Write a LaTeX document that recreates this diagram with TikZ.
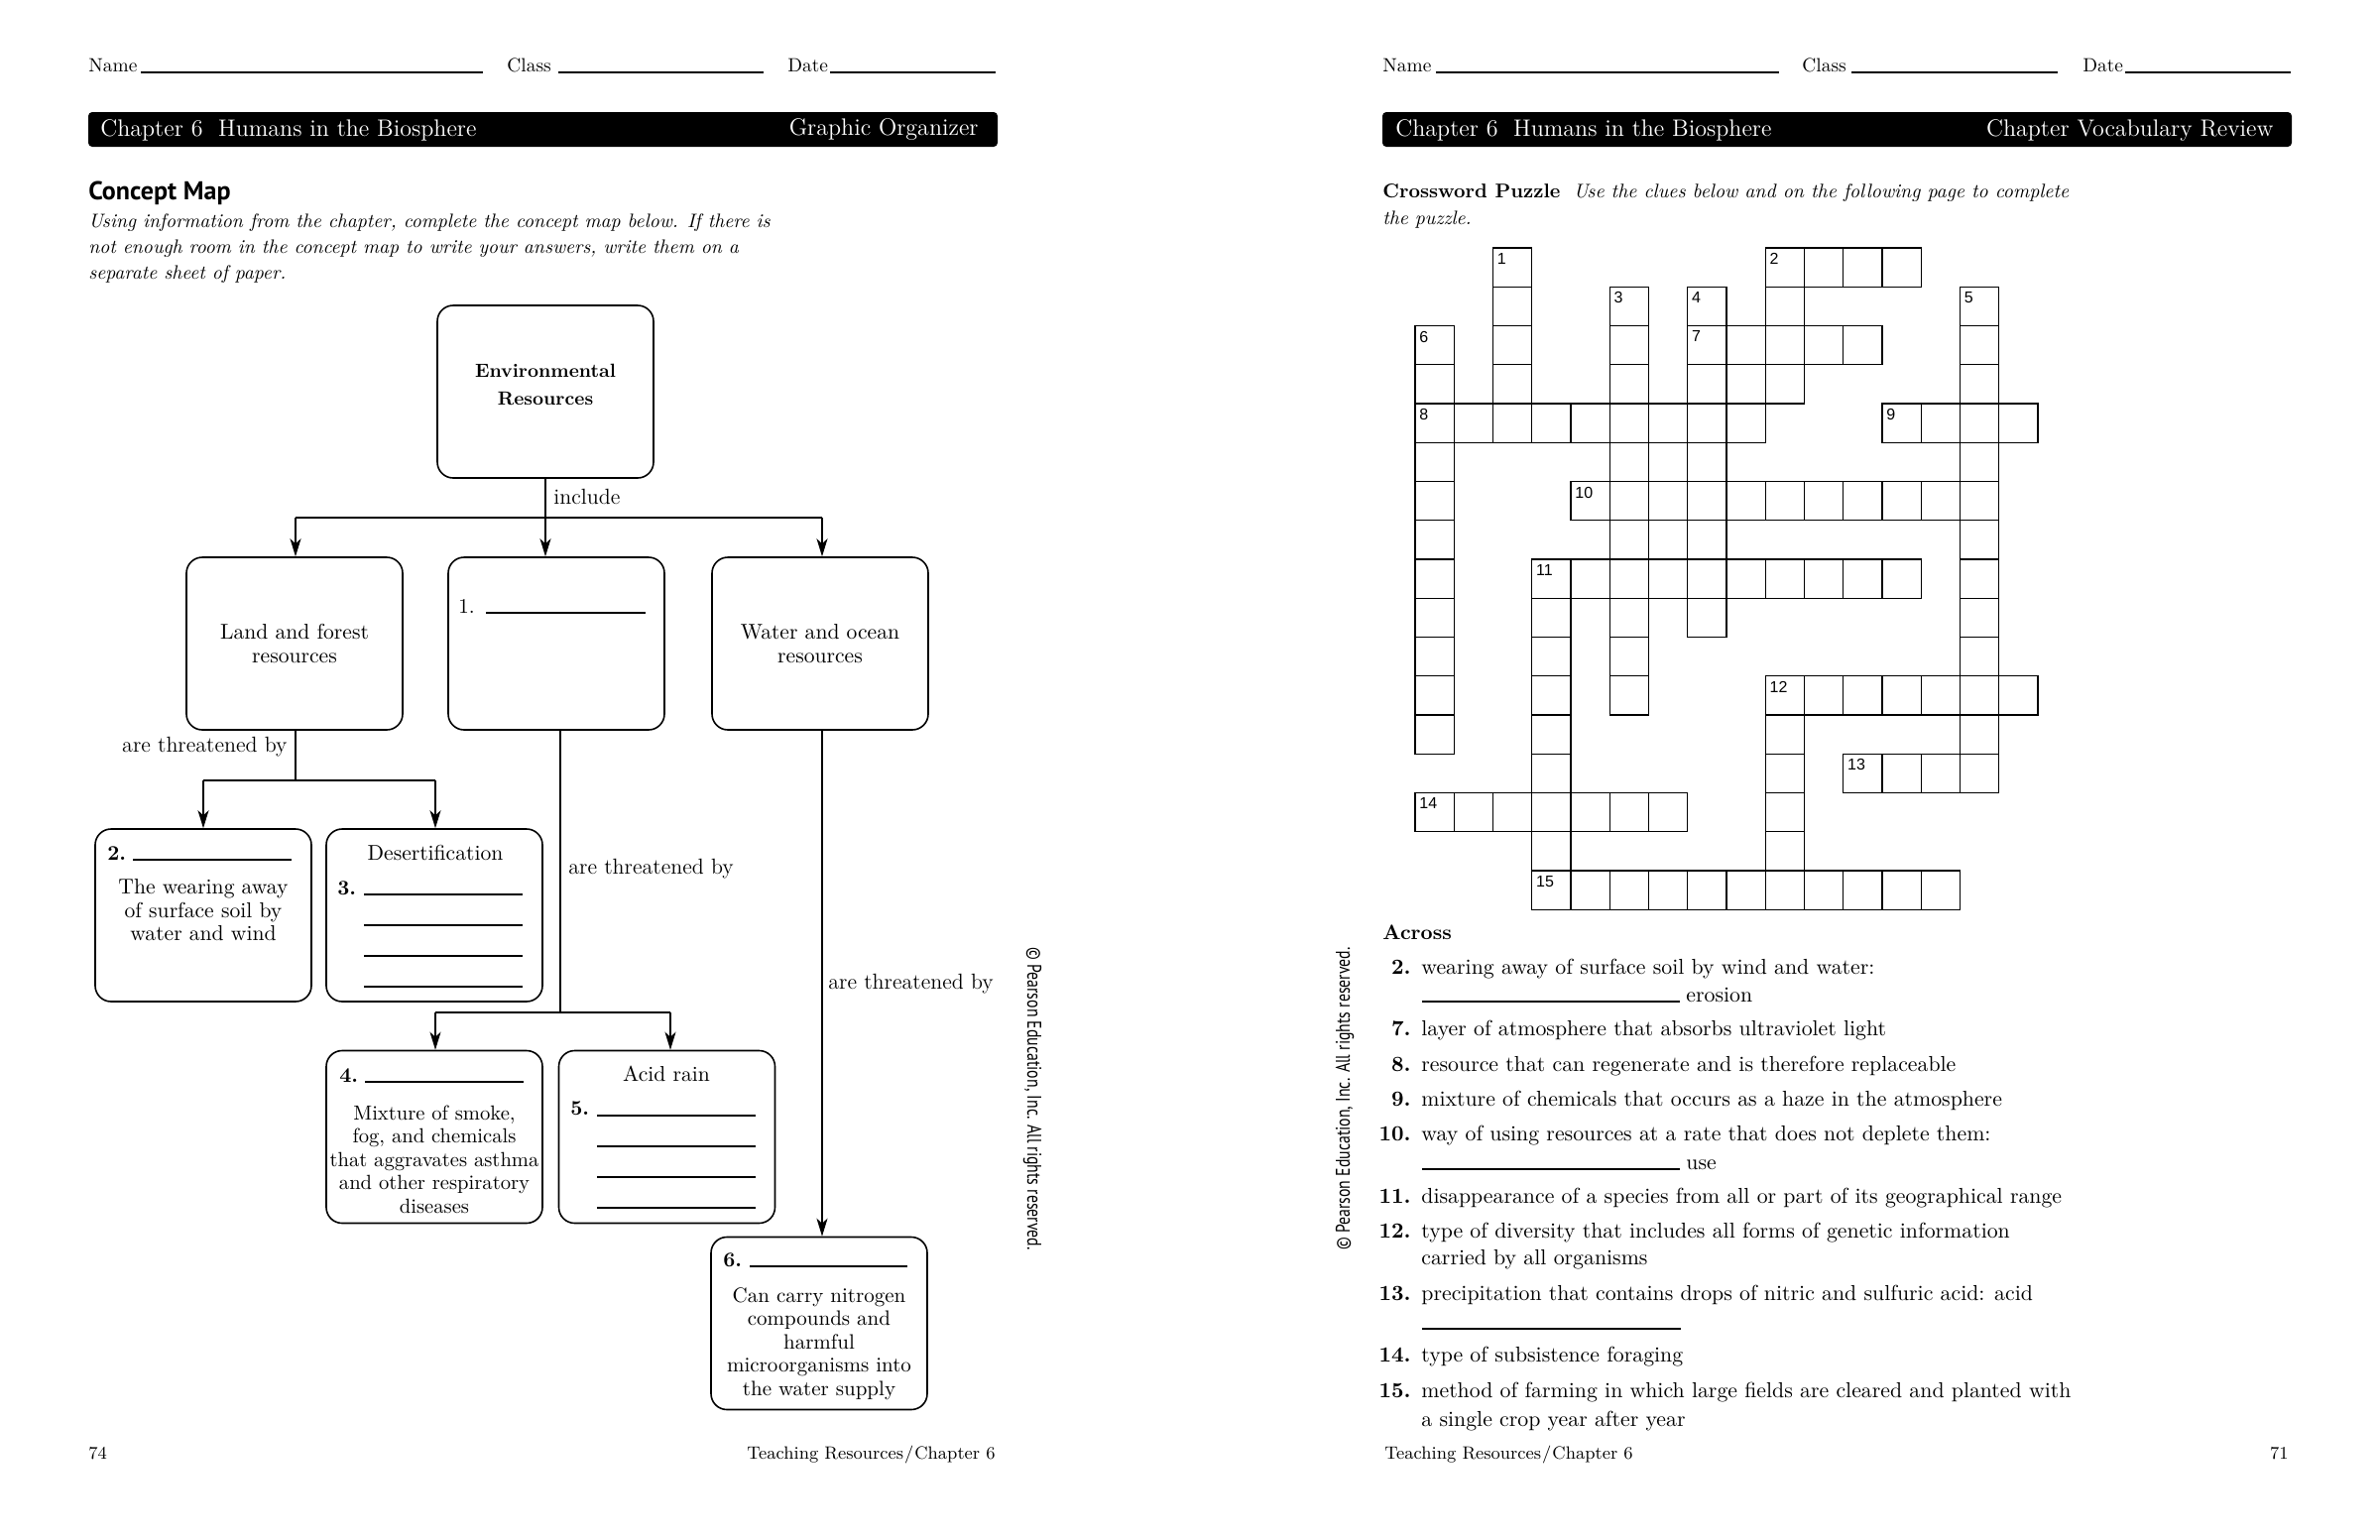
\documentclass[tikz,border=0pt]{standalone}
\usepackage{fontspec}
\usepackage{graphicx}
\newfontfamily\ptsans{PT Sans}
\newfontfamily\cwfont{Liberation Sans}
\usetikzlibrary{arrows.meta}
\newcommand\xcell[2]{\draw[cell] ({1427+#2*39.25},{250+#1*39.25}) rectangle ++(39.25,39.25);}
\newcommand\xnum[3]{\node[num] (n#3) at ({1427+#2*39.25+4},{250+#1*39.25+5}) {#3};}
\begin{document}
\begin{tikzpicture}[x=0.5pt,y=-0.5pt,
  box/.style={draw,line width=0.8pt,rounded corners=8pt,minimum width=109pt,minimum height=87pt,inner sep=0pt},
  con/.style={line width=0.7pt},
  arr/.style={con,-{Stealth[length=9pt,width=5.5pt,inset=2.5pt]}},
  txt/.style={inner sep=0pt,font=\fontsize{10.5}{11.75}\selectfont,align=center},
  lab/.style={inner sep=0pt,anchor=base west,font=\fontsize{11}{13}\selectfont},
  bnum/.style={inner sep=0pt,anchor=base west,font=\bfseries\fontsize{10.5}{12}\selectfont},
  blank/.style={line width=0.6pt},
  cell/.style={draw,line width=0.6pt},
  num/.style={inner sep=0pt,anchor=north west,font=\cwfont\fontsize{8}{8}\selectfont},
  clue/.style={inner sep=0pt,anchor=base west,font=\fontsize{10.9}{12}\selectfont},
  cnum/.style={inner sep=0pt,anchor=base east,font=\bfseries\fontsize{10.9}{12}\selectfont},
  hdr/.style={inner sep=0pt,anchor=base west,font=\fontsize{9.7}{11}\selectfont},
  band/.style={fill=black,rounded corners=2pt},
  bandtxt/.style={inner sep=0pt,text=white,font=\fontsize{12}{14}\selectfont},
  para/.style={inner sep=0pt,anchor=base west,font=\itshape\fontsize{9.8}{12}\selectfont},
  foot/.style={inner sep=0pt,font=\fontsize{9}{11}\selectfont},
  copyr/.style={inner sep=0pt,font=\ptsans\fontsize{10}{12}\selectfont},
]
\useasboundingbox (0,0) rectangle (2400,1553);
\fill[white] (0,0) rectangle (2400,1553);

% ================= LEFT PAGE =================
\node[hdr] (lname) at (89,72) {Name};
\draw[blank] (142,73) -- (487,73);
\node[hdr] (lclass) at (511,72) {Class};
\draw[blank] (563,73) -- (770,73);
\node[hdr] (ldate) at (794,72) {Date};
\draw[blank] (837,73) -- (1004,73);

\fill[band] (89,113) rectangle (1006,148);
\node[bandtxt,anchor=west] (lband1) at (101,131) {Chapter 6\ \ Humans in the Biosphere};
\node[bandtxt,anchor=east] (lband2) at (987,131) {Graphic Organizer};

\node[inner sep=0pt,anchor=base west,font=\ptsans\bfseries\fontsize{13}{15}\selectfont] (cmap) at (89,201) {Concept Map};
\node[para] (p1) at (89,229) {Using information from the chapter, complete the concept map below. If there is};
\node[para] (p2) at (89,255) {not enough room in the concept map to write your answers, write them on a};
\node[para] (p3) at (89,281) {separate sheet of paper.};

% boxes
\node[box] (env) at (550,395) {};
\node[box] (land) at (297,649) {};
\node[box] (one) at (561,649) {};
\node[box] (water) at (827,649) {};
\node[box] (two) at (205,923) {};
\node[box] (des) at (438,923) {};
\node[box] (four) at (438,1146.5) {};
\node[box] (acid) at (672.5,1146.5) {};
\node[box] (six) at (826,1334.5) {};

% box texts
\node[txt,font=\bfseries\fontsize{9.6}{14}\selectfont] (envt) at (550,388) {Environmental\\Resources};
\node[txt,font=\fontsize{10.8}{11.75}\selectfont] (landt) at (297,649) {Land and forest\\resources};
\node[txt,font=\fontsize{10.8}{11.75}\selectfont] (watert) at (827,649) {Water and ocean\\resources};
\node[inner sep=0pt,anchor=base west,font=\fontsize{10.5}{12}\selectfont] (onen) at (462,618) {1.};
\draw[blank] (490,618) -- (651,618);

\node[bnum] (twon) at (108,867) {2.};
\draw[blank] (134,867) -- (294,867);
\node[txt,font=\fontsize{10.8}{11.75}\selectfont] (twot) at (205,918) {The wearing away\\of surface soil by\\water and wind};

\node[txt,font=\fontsize{10.8}{11.75}\selectfont] (dest) at (439,860) {Desertification};
\node[bnum] (thrn) at (340,902) {3.};
\draw[blank] (367,902) -- (527,902);
\draw[blank] (367,933) -- (527,933);
\draw[blank] (367,964) -- (527,964);
\draw[blank] (367,995) -- (527,995);

\node[bnum] (fourn) at (342,1091) {4.};
\draw[blank] (368,1091) -- (528,1091);
\node[txt,font=\fontsize{10.3}{11.75}\selectfont] (fourt) at (438,1169) {Mixture of smoke,\\fog, and chemicals\\that aggravates asthma\\and other respiratory\\diseases};

\node[txt,font=\fontsize{10.8}{11.75}\selectfont] (acidt) at (672,1083) {Acid rain};
\node[bnum] (fiven) at (575,1124) {5.};
\draw[blank] (602,1125) -- (762,1125);
\draw[blank] (602,1156) -- (762,1156);
\draw[blank] (602,1187) -- (762,1187);
\draw[blank] (602,1218) -- (762,1218);

\node[bnum] (sixn) at (729,1277) {6.};
\draw[blank] (756,1277) -- (915,1277);
\node[txt] (sixt) at (826,1355) {Can carry nitrogen\\compounds and\\harmful\\microorganisms into\\the water supply};

% connectors
\coordinate (j0) at (550,522);
\coordinate (jl) at (298,522);
\coordinate (jr) at (829,522);
\draw[con] (env.south) -- (j0);
\draw[con] (jl) -- (jr);
\draw[arr] (jl) -- (jl |- land.north);
\draw[arr] (j0) -- (j0 |- one.north);
\draw[arr] (jr) -- (jr |- water.north);
\node[lab] (incl) at (558,508) {include};

\coordinate (k0) at (298,787);
\coordinate (kl) at (205,787);
\coordinate (kr) at (439,787);
\draw[con] (k0 |- land.south) -- (k0);
\draw[con] (kl) -- (kr);
\draw[arr] (kl) -- (kl |- two.north);
\draw[arr] (kr) -- (kr |- des.north);
\node[lab,anchor=base east] (thr1) at (290,758) {are threatened by};

\coordinate (m0) at (565,1021);
\coordinate (ml) at (439,1021);
\coordinate (mr) at (676,1021);
\draw[con] (m0 |- one.south) -- (m0);
\draw[con] (ml) -- (mr);
\draw[arr] (ml) -- (ml |- four.north);
\draw[arr] (mr) -- (mr |- acid.north);
\node[lab] (thr2) at (573,881) {are threatened by};

\coordinate (w0) at (829,736);
\draw[arr] (w0) -- (w0 |- six.north);
\node[lab] (thr3) at (835,997) {are threatened by};

\node[copyr,rotate=-90] (copyl) at (1041,1108) {\scalebox{0.79}[1]{© Pearson Education, Inc. All rights reserved.}};

\node[foot,anchor=base west] (pg74) at (89,1471) {74};
\node[foot,anchor=base east] (footl) at (1004,1471) {Teaching Resources\kern0.5pt/\kern0.5ptChapter 6};

% ================= RIGHT PAGE =================
\node[hdr] (rname) at (1394,72) {Name};
\draw[blank] (1448,73) -- (1794,73);
\node[hdr] (rclass) at (1817,72) {Class};
\draw[blank] (1867,73) -- (2075,73);
\node[hdr] (rdate) at (2100,72) {Date};
\draw[blank] (2143,73) -- (2310,73);

\fill[band] (1394,113) rectangle (2311,148);
\node[bandtxt,anchor=west] (rband1) at (1407,131) {Chapter 6\ \ Humans in the Biosphere};
\node[bandtxt,anchor=east] (rband2) at (2293,131) {Chapter Vocabulary Review};

\node[inner sep=0pt,anchor=base west,font=\fontsize{10}{12}\selectfont] (cwtitle) at (1394,199) {\textbf{Crossword Puzzle}\ \ \textit{\fontsize{9.9}{12}\selectfont Use the clues below and on the following page to complete}};
\node[para] (cwp2) at (1394,226) {the puzzle.};

% crossword grid
\foreach \c in {2,9,10,11,12} {\xcell{0}{\c}}
\foreach \c in {2,5,7,9,14} {\xcell{1}{\c}}
\foreach \c in {0,2,5,7,8,9,10,11,14} {\xcell{2}{\c}}
\foreach \c in {0,2,5,7,8,9,14} {\xcell{3}{\c}}
\foreach \c in {0,1,2,3,4,5,6,7,8,12,13,14,15} {\xcell{4}{\c}}
\foreach \c in {0,5,7,14} {\xcell{5}{\c}}
\foreach \c in {0,4,5,6,7,8,9,10,11,12,13,14} {\xcell{6}{\c}}
\foreach \c in {0,5,7,14} {\xcell{7}{\c}}
\foreach \c in {0,3,4,5,6,7,8,9,10,11,12,14} {\xcell{8}{\c}}
\foreach \c in {0,3,5,7,14} {\xcell{9}{\c}}
\foreach \c in {0,3,5,14} {\xcell{10}{\c}}
\foreach \c in {0,3,5,9,10,11,12,13,14,15} {\xcell{11}{\c}}
\foreach \c in {0,3,9,14} {\xcell{12}{\c}}
\foreach \c in {3,9,11,12,13,14} {\xcell{13}{\c}}
\foreach \c in {0,1,2,3,4,5,6,9} {\xcell{14}{\c}}
\foreach \c in {3,9} {\xcell{15}{\c}}
\foreach \c in {3,4,5,6,7,8,9,10,11,12,13} {\xcell{16}{\c}}

\xnum{0}{2}{1}
\xnum{0}{9}{2}
\xnum{1}{5}{3}
\xnum{1}{7}{4}
\xnum{1}{14}{5}
\xnum{2}{0}{6}
\xnum{2}{7}{7}
\xnum{4}{0}{8}
\xnum{4}{12}{9}
\xnum{6}{4}{10}
\xnum{8}{3}{11}
\xnum{11}{9}{12}
\xnum{13}{11}{13}
\xnum{14}{0}{14}
\xnum{16}{3}{15}

% clues
\node[inner sep=0pt,anchor=base west,font=\bfseries\fontsize{10.5}{12}\selectfont] (across) at (1394,947) {Across};
\node[cnum] (c2n) at (1423,982) {2.};
\node[clue] (c2) at (1433,982) {wearing away of surface soil by wind and water:};
\draw[blank] (1434,1010) -- (1694,1010);
\node[clue] (c2b) at (1700,1010) {erosion};
\node[cnum] (c7n) at (1423,1044) {7.};
\node[clue] (c7) at (1433,1044) {layer of atmosphere that absorbs ultraviolet light};
\node[cnum] (c8n) at (1423,1080) {8.};
\node[clue] (c8) at (1433,1080) {resource that can regenerate and is therefore replaceable};
\node[cnum] (c9n) at (1423,1115) {9.};
\node[clue] (c9) at (1433,1115) {mixture of chemicals that occurs as a haze in the atmosphere};
\node[cnum] (c10n) at (1423,1150) {10.};
\node[clue] (c10) at (1433,1150) {way of using resources at a rate that does not deplete them:};
\draw[blank] (1434,1179) -- (1694,1179);
\node[clue] (c10b) at (1700,1179) {use};
\node[cnum] (c11n) at (1423,1213) {11.};
\node[clue] (c11) at (1433,1213) {disappearance of a species from all or part of its geographical range};
\node[cnum] (c12n) at (1423,1248) {12.};
\node[clue] (c12) at (1433,1248) {type of diversity that includes all forms of genetic information};
\node[clue] (c12b) at (1433,1275) {carried by all organisms};
\node[cnum] (c13n) at (1423,1311) {13.};
\node[clue] (c13) at (1433,1311) {precipitation that contains drops of nitric and sulfuric acid: acid};
\draw[blank] (1434,1340) -- (1695,1340);
\node[cnum] (c14n) at (1423,1373) {14.};
\node[clue] (c14) at (1433,1373) {type of subsistence foraging};
\node[cnum] (c15n) at (1423,1409) {15.};
\node[clue] (c15) at (1433,1409) {method of farming in which large fields are cleared and planted with};
\node[clue] (c15b) at (1433,1438) {a single crop year after year};

\node[copyr,rotate=90] (copyr) at (1356,1108) {\scalebox{0.79}[1]{© Pearson Education, Inc. All rights reserved.}};

\node[foot,anchor=base west] (footr) at (1396,1471) {Teaching Resources\kern0.5pt/\kern0.5ptChapter 6};
\node[foot,anchor=base east] (pg71) at (2308,1471) {71};
\end{tikzpicture}
\end{document}
